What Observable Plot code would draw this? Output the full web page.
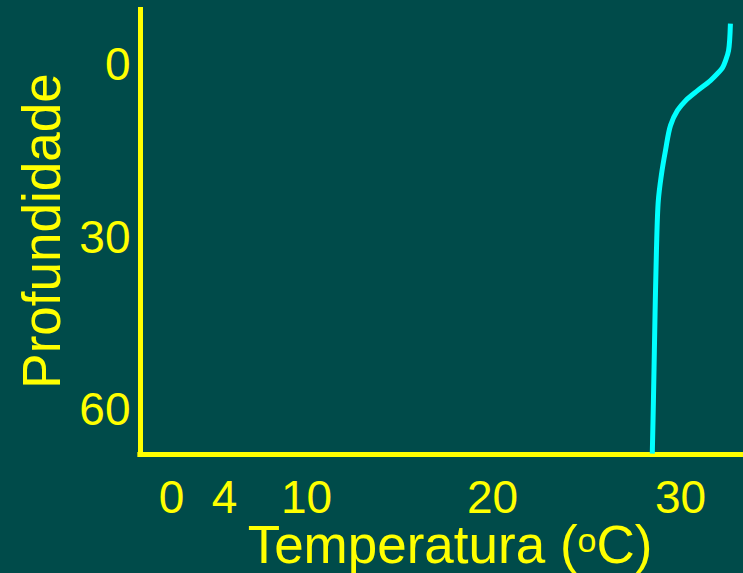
<!DOCTYPE html>
<html>
<head>
<meta charset="utf-8">
<script src="https://cdn.jsdelivr.net/npm/d3@7"></script>
<script src="https://cdn.jsdelivr.net/npm/@observablehq/plot@0.6"></script>
<style>
  html, body { margin: 0; padding: 0; background: #004b4a; overflow: hidden; }
</style>
</head>
<body>
<div id="chart"></div>
<script>
// Data
const depth = [-7.3, -2.6, -0.87, 0.35, 1.39, 2.6, 4.35, 6.1, 7.8, 10.4, 14.8, 19.1, 23.5, 32.2, 40.9, 49.6, 58.3, 67.5];
const temperature = [32.67, 32.57, 32.41, 32.25, 31.98, 31.60, 30.91, 30.27, 29.84, 29.47, 29.20, 28.98, 28.82, 28.72, 28.66, 28.61, 28.56, 28.50];
const xTicks = [0, 4, 10, 20, 30];
const yTicks = [0, 30, 60];
const xLabel = "Temperatura (oC)";
const yLabel = "Profundidade";

const profile = depth.map((d, i) => ({d, t: temperature[i]}));

const yellow = "#ffff00";
const xDomain = [-2.34, 0, 4, 10, 20, 30, 33.37];
const yDomain = [-10.1, 67.65];

const chart = Plot.plot({
  width: 743,
  height: 573,
  marginLeft: 140,
  marginRight: 0,
  marginTop: 7,
  marginBottom: 119,
  style: {background: "#004b4a", color: yellow, fontFamily: "Liberation Sans, Arial, sans-serif"},
  x: {type: "linear", domain: xDomain, range: [140, 171, 224, 306, 492, 680, 743]},
  y: {domain: yDomain, range: [7, 454]},
  marks: [
    Plot.ruleX([xDomain[0]], {y1: yDomain[0], y2: yDomain[1] + 0.4, stroke: yellow, strokeWidth: 5}),
    Plot.ruleY([yDomain[1]], {x1: xDomain[0] - 0.2, x2: xDomain[xDomain.length - 1], stroke: yellow, strokeWidth: 5}),
    Plot.line(profile, {x: "t", y: "d", stroke: "#00ffff", strokeWidth: 5, curve: "catmull-rom", strokeLinecap: "butt"}),
    Plot.axisX({ticks: xTicks, tickSize: 0, tickPadding: 26, fontSize: 46, label: null, fill: yellow, tickFormat: d => String(d)}),
    Plot.axisY({ticks: yTicks, tickSize: 0, tickPadding: 10, fontSize: 46, label: null, fill: yellow, tickFormat: d => String(d)}),
    Plot.text([yLabel], {frameAnchor: "left", text: d => d, rotate: -90, dx: -97, fontSize: 53, fill: yellow, lineAnchor: "middle", textAnchor: "middle"}),
    Plot.text([xLabel], {frameAnchor: "bottom", text: d => d, dx: 8, dy: 92, fontSize: 53, fill: yellow, lineAnchor: "middle", textAnchor: "middle", className: "xlabel"})
  ]
});

document.getElementById("chart").appendChild(chart);

// render the "o" of (oC) as a superscript
d3.select(chart).selectAll("text").each(function() {
  const el = d3.select(this);
  if (el.text() === xLabel && this.children.length === 0) {
    el.text(null);
    el.append("tspan").text("Temperatura (");
    el.append("tspan").attr("font-size", 34).attr("dy", -11).text("o");
    el.append("tspan").attr("dy", 11).text("C)");
  }
});
</script>
</body>
</html>
